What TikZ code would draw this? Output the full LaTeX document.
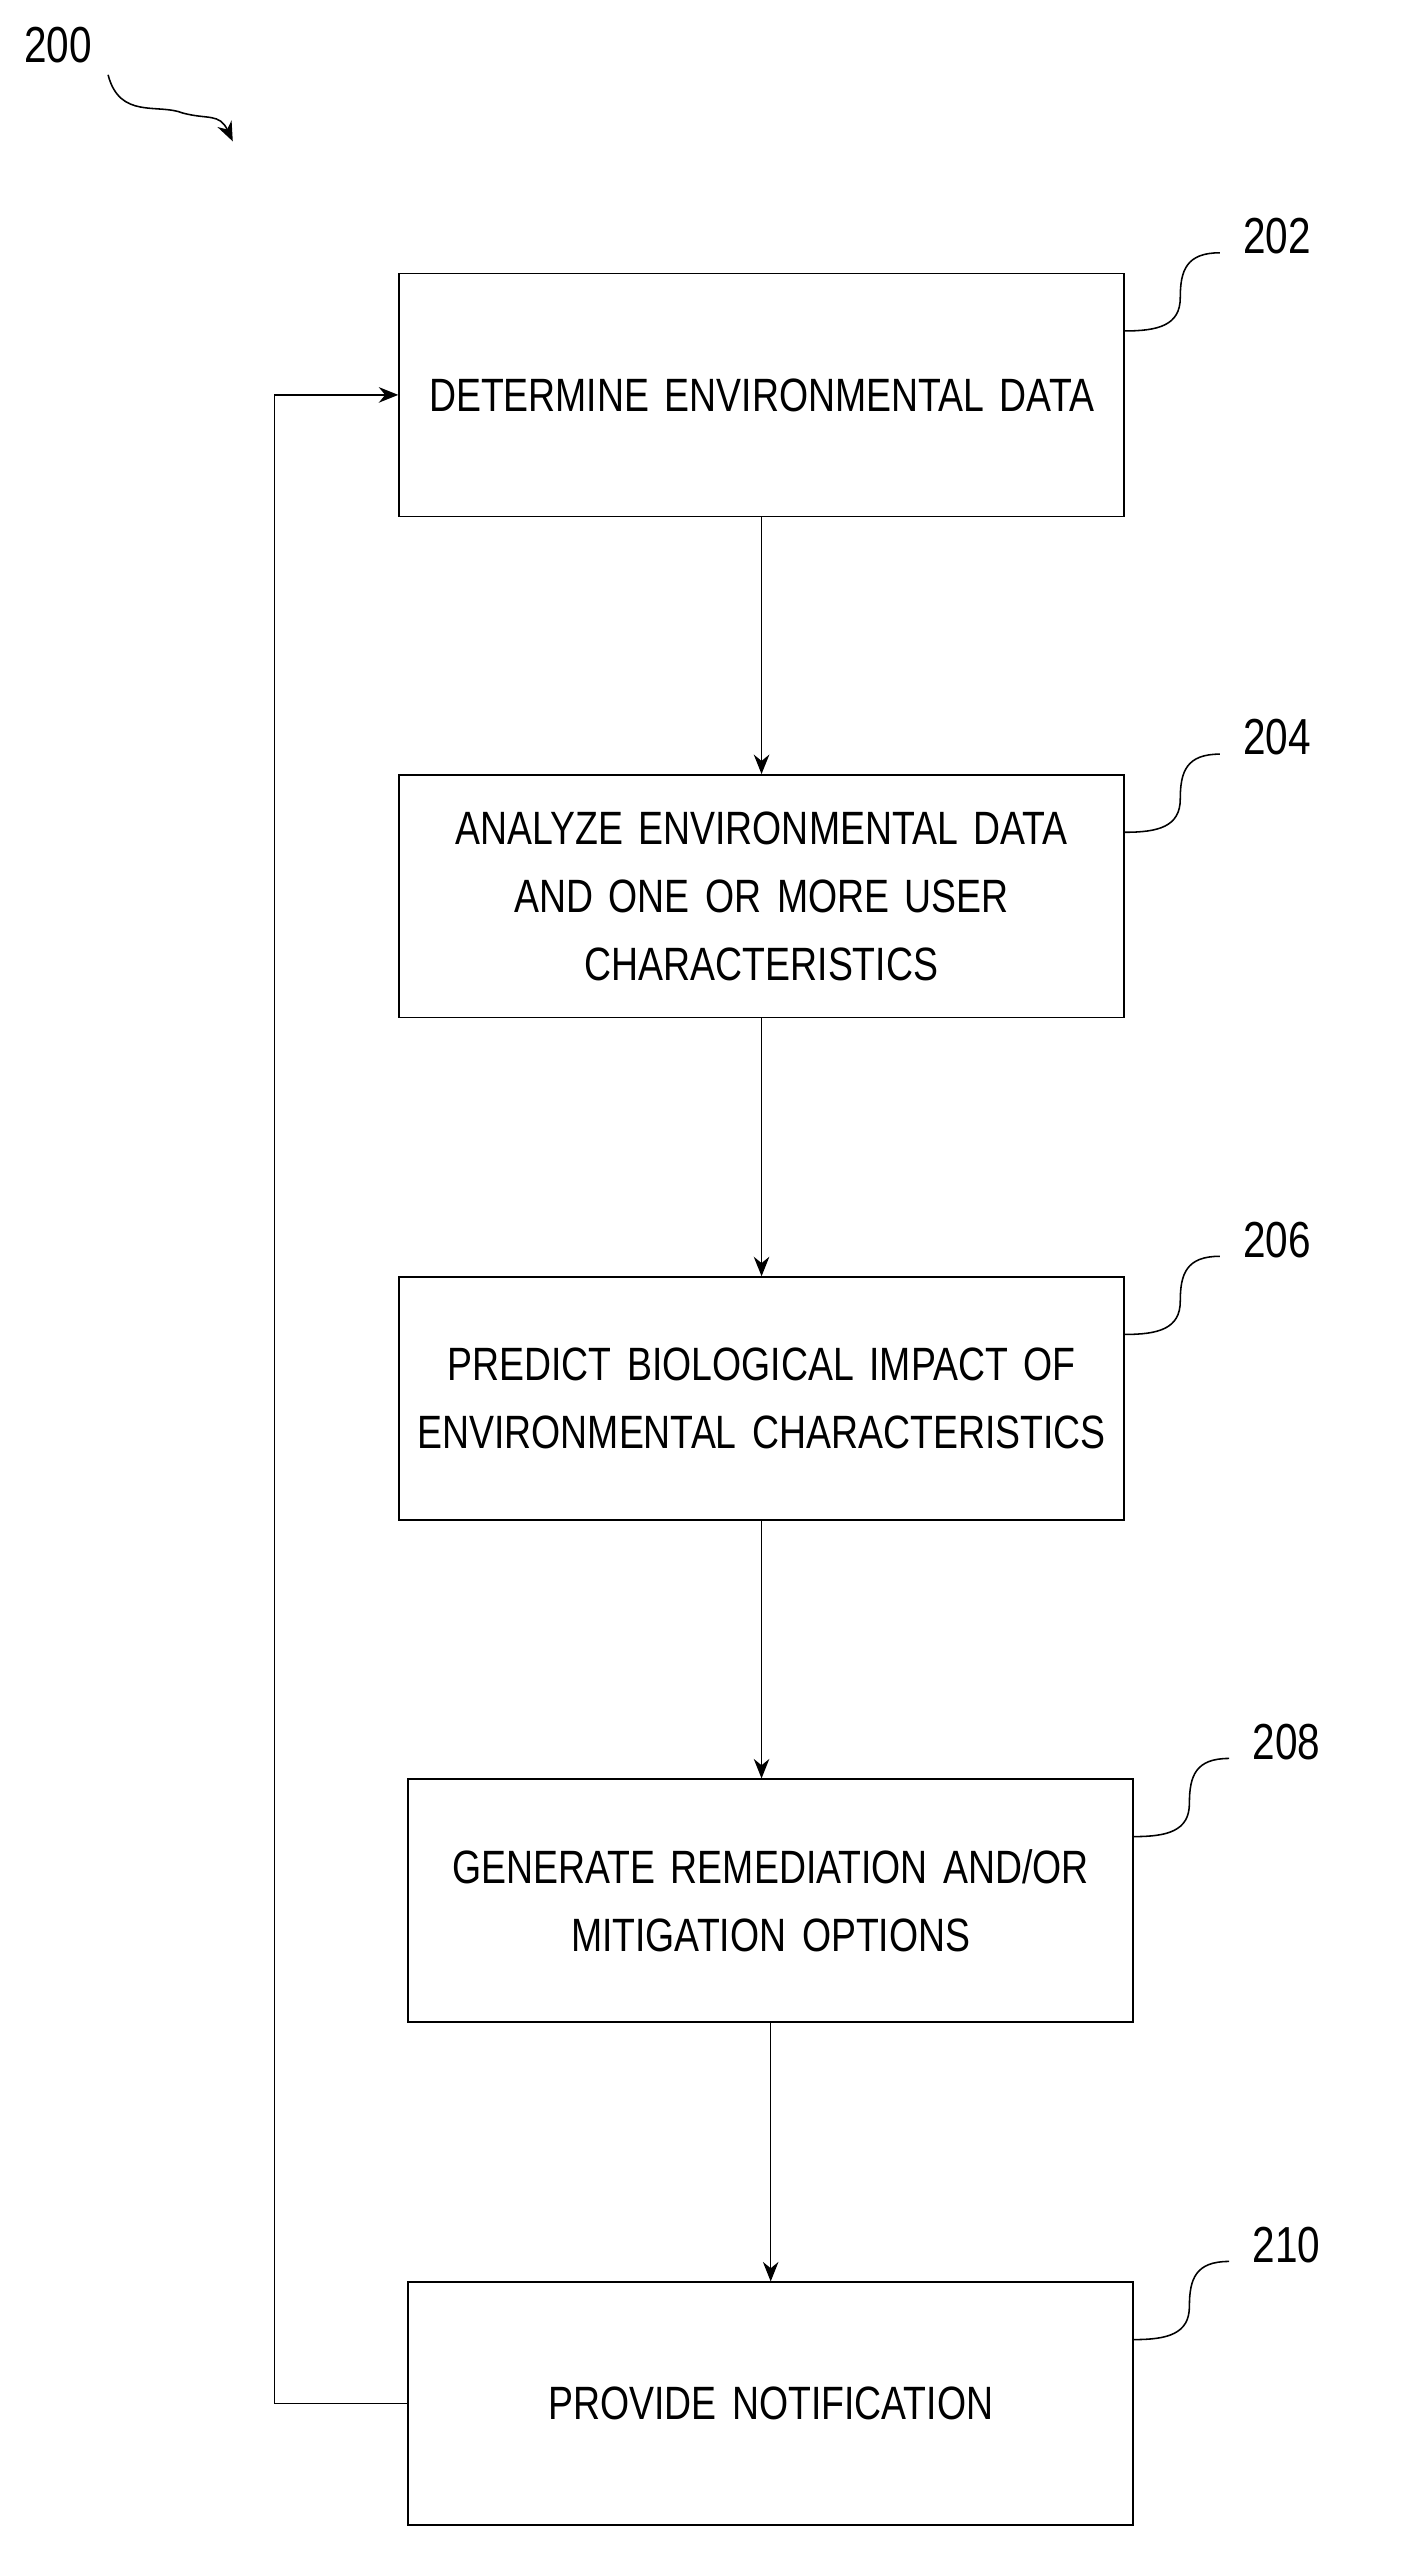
\documentclass[tikz,border=0pt]{standalone}
\usepackage{fontspec}
\setmainfont[FakeStretch=0.8]{Liberation Sans}
\usetikzlibrary{positioning,arrows.meta}
\begin{document}
\begin{tikzpicture}[x=0.03cm,y=-0.03cm,
    stepbox/.style={draw,thick,minimum width=13.08cm,minimum height=4.38cm,align=center,
      text width=12.8cm,font=\fontsize{24}{35}\selectfont,inner sep=0pt},
    flow/.style={thick,-{Stealth[length=10pt,width=8pt]}},
    tag/.style={font=\fontsize{26}{30}\selectfont},
    lead/.style={thick}]
\useasboundingbox (0,0) rectangle (850,1539);
\node[stepbox] (s202) at (458,237.5) {DETERMINE ENVIRONMENTAL DATA};
\node[stepbox] (s204) at (458,539) {ANALYZE ENVIRONMENTAL DATA\\AND ONE OR MORE USER\\CHARACTERISTICS};
\node[stepbox] (s206) at (458,841) {PREDICT BIOLOGICAL IMPACT OF\\ENVIRONMENTAL CHARACTERISTICS};
\node[stepbox] (s208) at (463.5,1143) {GENERATE REMEDIATION AND/OR\\MITIGATION OPTIONS};
\node[stepbox] (s210) at (463.5,1445.5) {PROVIDE NOTIFICATION};
% vertical flow
\draw[flow] (s202) -- (s204);
\draw[flow] (s204) -- (s206);
\draw[flow] (s206.south) -- (s206.south |- s208.north);
\draw[flow] (s208) -- (s210);
% loop back
\draw[flow] (s210.west) -- (165,1445.5) |- (s202.west);
% reference numerals
\foreach \n/\b in {202/s202,204/s204,206/s206,208/s208,210/s210}{
  \node[tag] (t\n) at ([xshift=2.75cm,yshift=0.66cm]\b.north east) {\n};
  \draw[lead] ([yshift=-1.05cm]\b.north east) .. controls ++(0.6cm,0) and ++(0,-0.5cm) .. ++(1.0cm,0.6cm)
     .. controls ++(0,0.5cm) and ++(-0.6cm,0) .. ([xshift=-0.3cm,yshift=-0.3cm]t\n.west);
}
\node[tag] (t200) at (35,27) {200};
\coordinate (a200) at (140,85);
\draw[thick,-{Stealth[length=10pt,width=8pt]}] (65,45) .. controls (72,72) and (95,62) .. (110,68) .. controls (125,72) and (132,68) .. (a200);
\end{tikzpicture}
\end{document}
